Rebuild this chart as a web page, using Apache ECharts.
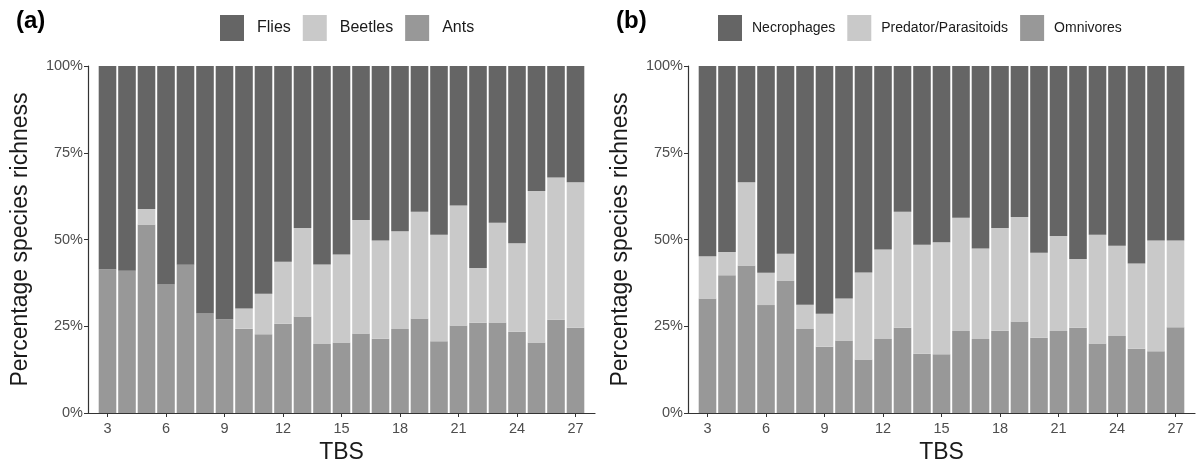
<!DOCTYPE html>
<html>
<head>
<meta charset="utf-8">
<script src="https://cdn.jsdelivr.net/npm/echarts@6/dist/echarts.min.js"></script>
<style>
html,body{margin:0;padding:0;background:#fff;}
#chart{width:1198px;height:464px;}
</style>
</head>
<body>
<div id="chart"></div>
<script>
// Data
const tbs = [3,4,5,6,7,8,9,10,11,12,13,14,15,16,17,18,19,20,21,22,23,24,25,26,27];
const xTickLabels = [3,6,9,12,15,18,21,24,27];
const yTickLabels = ['0%','25%','50%','75%','100%'];

// Panel (a): taxonomic groups (% species richness)
const ants    = [41.4,41.0,54.3,37.0,42.7,28.7,27.0,24.3,22.7,25.7,27.8,19.9,20.3,22.9,21.4,24.2,27.2,20.7,25.2,26.0,26.1,23.4,20.3,26.9,24.6];
const beetles = [0,0,4.5,0,0,0,0,5.8,11.7,17.9,25.5,22.9,25.4,32.7,28.3,28.2,30.8,30.7,34.6,15.8,28.7,25.5,43.7,41.0,41.9];
const flies   = [58.6,59.0,41.2,63.0,57.3,71.3,73.0,69.9,65.6,56.4,46.7,57.2,54.3,44.4,50.3,47.6,42.0,48.6,40.2,58.2,45.2,51.1,36.0,32.1,33.5];

// Panel (b): functional groups (% species richness)
const omnivores = [33.0,39.7,42.5,31.1,38.2,24.2,19.1,20.9,15.4,21.3,24.6,17.1,16.9,23.6,21.3,23.7,26.4,21.7,23.6,24.6,20.0,22.2,18.5,17.8,24.7];
const predators = [12.2,6.7,24.0,9.3,7.7,7.0,9.5,12.1,25.1,25.8,33.4,31.4,32.3,32.7,26.1,29.6,30.1,24.5,27.4,19.8,31.4,26.0,24.6,31.9,25.0];
const necrophages = [54.8,53.6,33.5,59.6,54.1,68.8,71.4,67.0,59.5,52.9,42.0,51.5,50.8,43.7,52.6,46.7,43.5,53.8,49.0,55.6,48.6,51.8,56.9,50.3,50.3];

const seriesA = ['Flies','Beetles','Ants'];
const seriesB = ['Necrophages','Predator/Parasitoids','Omnivores'];

const C_DARK = '#656565', C_LIGHT = '#c9c9c9', C_MID = '#989898';
const FONT = 'Liberation Sans, Arial, sans-serif';

// value first so that stacking happens on the value (y) dimension
function pairs(vals){ return tbs.map((t,i)=>[vals[i], t]); }

function xAxis(gi){
  return {
    type:'value', gridIndex:gi, min:2, max:28,
    name:'TBS', nameLocation:'middle', nameGap:26,
    nameTextStyle:{fontSize:23, color:'#1a1a1a', fontFamily:FONT},
    axisLine:{show:true, onZero:false, lineStyle:{color:'#333', width:1.2}},
    axisTick:{show:true, length:4, customValues:xTickLabels, lineStyle:{color:'#333'}},
    axisLabel:{customValues:xTickLabels, fontSize:14.5, color:'#4d4d4d', margin:8, fontFamily:FONT},
    splitLine:{show:false}
  };
}
function yAxis(gi){
  return {
    type:'value', gridIndex:gi, min:0, max:100, interval:25,
    name:'Percentage species richness', nameLocation:'middle', nameGap:56,
    nameTextStyle:{fontSize:23, color:'#1a1a1a', fontFamily:FONT},
    axisLine:{show:true, onZero:false, lineStyle:{color:'#333', width:1.2}},
    axisTick:{show:true, length:4, lineStyle:{color:'#333'}},
    axisLabel:{formatter:(v)=>yTickLabels[v/25], fontSize:14.5, color:'#4d4d4d', margin:5, fontFamily:FONT},
    splitLine:{show:false}
  };
}
function bar(name, vals, gi, stack, color){
  return {
    name, type:'bar', stack, xAxisIndex:gi, yAxisIndex:gi,
    data:pairs(vals), encode:{x:1, y:0},
    barWidth:17.6, itemStyle:{color},
    emphasis:{disabled:true}, animation:false
  };
}
function legend(names, left, fs, pad){
  return {
    data:names, left, top:10, orient:'horizontal',
    icon:'rect', itemWidth:24, itemHeight:26, itemGap:12,
    textStyle:{fontSize:fs, color:'#1a1a1a', fontFamily:FONT, padding:[0,0,0,pad]},
    selectedMode:false
  };
}

const chart = echarts.init(document.getElementById('chart'), null, {renderer:'canvas'});
chart.setOption({
  animation:false,
  backgroundColor:'#fff',
  title:[
    {text:'(a)', left:11, top:4, textStyle:{fontSize:24, fontWeight:'bold', color:'#000', fontFamily:FONT}},
    {text:'(b)', left:611, top:4, textStyle:{fontSize:24, fontWeight:'bold', color:'#000', fontFamily:FONT}}
  ],
  legend:[legend(seriesA, 215, 16, 8), legend(seriesB, 713, 14, 5)],
  grid:[
    {left:88, top:66, width:507, height:347, outerBoundsMode:'none', containLabel:false},
    {left:688, top:66, width:507, height:347, outerBoundsMode:'none', containLabel:false}
  ],
  xAxis:[xAxis(0), xAxis(1)],
  yAxis:[yAxis(0), yAxis(1)],
  series:[
    bar('Ants', ants, 0, 'a', C_MID),
    bar('Beetles', beetles, 0, 'a', C_LIGHT),
    bar('Flies', flies, 0, 'a', C_DARK),
    bar('Omnivores', omnivores, 1, 'b', C_MID),
    bar('Predator/Parasitoids', predators, 1, 'b', C_LIGHT),
    bar('Necrophages', necrophages, 1, 'b', C_DARK)
  ]
});
</script>
</body>
</html>
